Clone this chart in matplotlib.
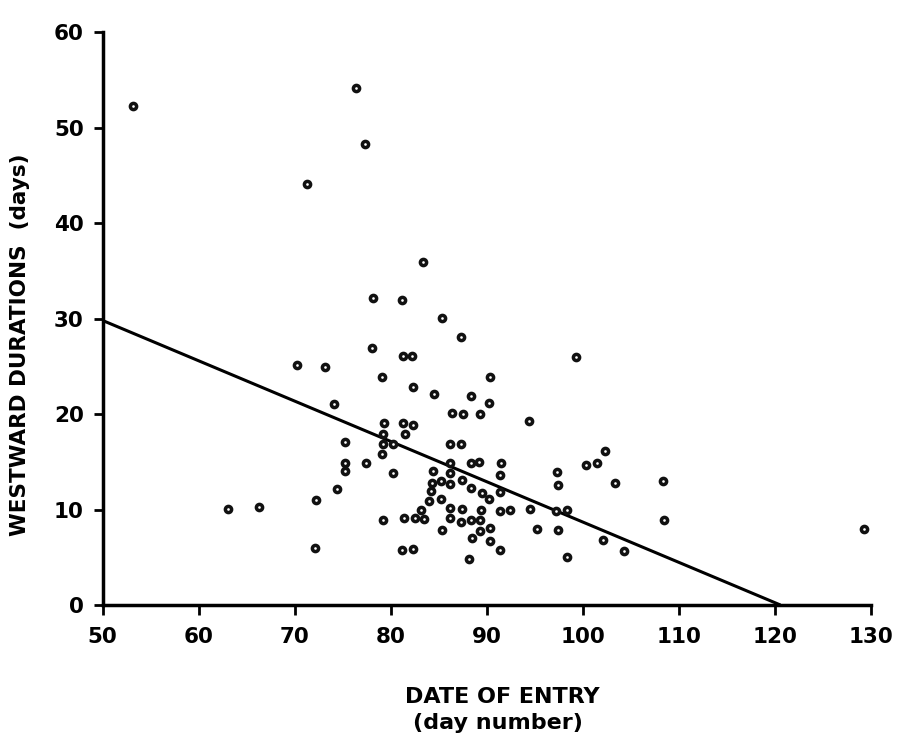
import matplotlib
matplotlib.use("Agg")
import matplotlib.pyplot as plt

# Date of entry (day number)
entry_day = [
    53.2, 76.4, 77.3, 71.3, 78.2, 83.4, 81.2, 85.4, 87.3, 78.1,
    81.3, 82.2, 99.3, 70.3, 73.2, 79.1, 90.3, 82.3, 84.5, 88.4,
    90.2, 74.1, 86.4, 87.5, 89.3, 94.4, 79.3, 81.3, 82.3, 79.25,
    81.5, 75.3, 79.2, 80.2, 86.2, 87.3, 79.1, 75.3, 77.4, 86.2,
    88.4, 89.2, 91.5, 75.3, 80.2, 84.4, 86.2, 91.4, 87.4, 97.3,
    84.3, 85.3, 86.2, 97.4, 88.4, 74.4, 84.2, 91.4, 89.5, 90.2,
    72.2, 84.0, 85.3, 86.2, 87.4, 89.4, 83.2, 91.4, 92.4, 94.5,
    97.2, 98.4, 79.2, 81.4, 82.5, 83.5, 86.2, 87.3, 88.4, 89.3,
    90.4, 85.4, 89.3, 95.2, 97.4, 88.5, 90.3, 91.4, 72.1, 81.2,
    82.3, 88.2, 98.4, 63.1, 66.3, 102.3, 100.3, 101.5, 103.4, 108.4,
    102.1, 104.3, 108.5, 129.25,
]
# Westward durations (days)
duration_days = [
    52.3, 54.1, 48.3, 44.1, 32.2, 35.9, 31.9, 30.1, 28.1, 26.9,
    26.1, 26.1, 26.0, 25.1, 24.9, 23.9, 23.9, 22.8, 22.1, 21.9,
    21.2, 21.0, 20.1, 20.0, 20.0, 19.3, 19.1, 19.1, 18.9, 17.9,
    17.9, 17.1, 16.9, 16.9, 16.9, 16.9, 15.8, 14.9, 14.9, 14.9,
    14.9, 15.0, 14.9, 14.0, 13.8, 14.0, 13.8, 13.6, 13.1, 13.9,
    12.8, 13.0, 12.7, 12.6, 12.3, 12.1, 11.9, 11.8, 11.7, 11.1,
    11.0, 10.9, 11.1, 10.2, 10.1, 10.0, 10.0, 9.8, 10.0, 10.1,
    9.8, 9.9, 8.9, 9.1, 9.1, 9.0, 9.1, 8.7, 8.9, 8.9,
    8.1, 7.9, 7.8, 8.0, 7.9, 7.0, 6.7, 5.8, 6.0, 5.8,
    5.9, 4.8, 5.0, 10.1, 10.3, 16.1, 14.7, 14.9, 12.8, 13.0,
    6.8, 5.7, 8.9, 8.0,
]
# Regression line end points
fit_x = [50.0, 120.6]
fit_y = [29.8, 0.0]

x_ticks = [50, 60, 70, 80, 90, 100, 110, 120, 130]
x_tick_labels = ["50", "60", "70", "80", "90", "100", "110", "120", "130"]
y_ticks = [0, 10, 20, 30, 40, 50, 60]
y_tick_labels = ["0", "10", "20", "30", "40", "50", "60"]

plt.rcParams["font.family"] = ["DejaVu Sans"]

fig = plt.figure(figsize=(9.01, 7.38), dpi=100)
ax = fig.add_axes([0.1138, 0.1802, 0.8526, 0.7764])

ax.plot(fit_x, fit_y, color="black", lw=2.2, solid_capstyle="butt", zorder=2)
ax.scatter(entry_day, duration_days, s=20, facecolor="white",
           edgecolor="#111111", linewidths=2.5, zorder=3, clip_on=False)

ax.set_xlim(50, 130)
ax.set_ylim(0, 60)
ax.set_xticks(x_ticks)
ax.set_xticklabels(x_tick_labels, fontweight="bold")
ax.set_yticks(y_ticks)
ax.set_yticklabels(y_tick_labels, fontweight="bold")

for s in ["top", "right"]:
    ax.spines[s].set_visible(False)
for s in ["left", "bottom"]:
    ax.spines[s].set_linewidth(2.5)
    ax.spines[s].set_color("black")

ax.tick_params(axis="x", direction="out", length=7, width=2.0, pad=9,
               labelsize=15.5)
ax.tick_params(axis="y", direction="out", length=6.5, width=2.0, pad=7,
               labelsize=15.5)

fig.text(20 / 901, 1 - 345 / 738, "WESTWARD DURATIONS  (days)",
         rotation=90, ha="center", va="center", fontsize=15.5,
         fontweight="bold")
fig.text(502 / 901, 1 - 697 / 738, "DATE OF ENTRY", ha="center",
         va="center", fontsize=16, fontweight="bold")
fig.text(498 / 901, 1 - 723 / 738, "(day number)", ha="center",
         va="center", fontsize=16, fontweight="bold")

fig.savefig("out.png", dpi=100)
